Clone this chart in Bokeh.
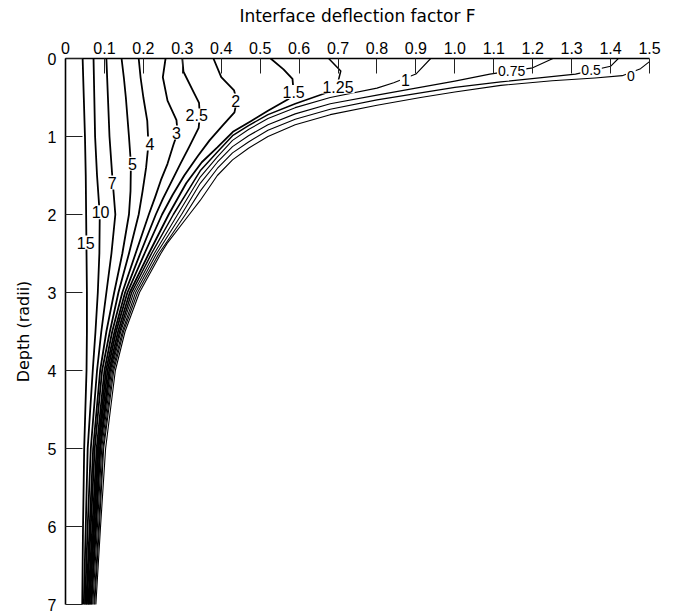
from bokeh.plotting import figure
from bokeh.models import Range1d, FixedTicker, Label
from bokeh.embed import file_html
from bokeh.resources import INLINE

# ---- axes -------------------------------------------------------------
x_ticks = [0, 0.1, 0.2, 0.3, 0.4, 0.5, 0.6, 0.7, 0.8, 0.9, 1.0, 1.1, 1.2, 1.3, 1.4, 1.5]
x_tick_labels = ["0", "0.1", "0.2", "0.3", "0.4", "0.5", "0.6", "0.7", "0.8", "0.9",
                 "1.0", "1.1", "1.2", "1.3", "1.4", "1.5"]
y_ticks = [0, 1, 2, 3, 4, 5, 6, 7]
y_tick_labels = ["0", "1", "2", "3", "4", "5", "6", "7"]
x_title = "Interface deflection factor F"
y_title = "Depth (radii)"

# ---- curves: interface deflection factor F vs depth (radii) -------------
curve_names = ["15", "10", "7", "5", "4", "3", "2.5", "2", "1.5", "1.25", "1", "0.75", "0.5", "0"]

c15_F = [0.044, 0.047, 0.050, 0.052, 0.053, 0.054, 0.055, 0.055, 0.054, 0.048, 0.045, 0.043]
c15_D = [0.0, 0.5, 1.0, 1.5, 2.0, 2.5, 3.0, 3.5, 4.0, 5.0, 6.0, 7.0]

c10_F = [0.072, 0.074, 0.076, 0.081, 0.088, 0.087, 0.083, 0.077, 0.070, 0.057, 0.052, 0.047]
c10_D = [0.0, 0.5, 1.0, 1.5, 2.0, 2.5, 3.0, 3.5, 4.0, 5.0, 6.0, 7.0]

c7_F = [0.105, 0.109, 0.113, 0.120, 0.128, 0.118, 0.105, 0.092, 0.081, 0.065, 0.057, 0.050]
c7_D = [0.0, 0.5, 1.0, 1.5, 2.0, 2.5, 3.0, 3.5, 4.0, 5.0, 6.0, 7.0]

c5_F = [0.144, 0.150, 0.155, 0.163, 0.168, 0.167, 0.163, 0.146, 0.125, 0.105, 0.089, 0.071, 0.062, 0.053]
c5_D = [0.0, 0.25, 0.5, 1.0, 1.35, 1.7, 2.0, 2.5, 3.0, 3.5, 4.0, 5.0, 6.0, 7.0]

c4_F = [0.188, 0.193, 0.200, 0.210, 0.213, 0.207, 0.198, 0.188, 0.163, 0.136, 0.114, 0.094, 0.075,
        0.065, 0.055]
c4_D = [0.0, 0.25, 0.5, 0.8, 1.1, 1.4, 1.7, 2.0, 2.5, 3.0, 3.5, 4.0, 5.0, 6.0, 7.0]

c3_F = [0.257, 0.250, 0.262, 0.285, 0.288, 0.277, 0.262, 0.245, 0.230, 0.214, 0.180, 0.146,
        0.120, 0.100, 0.080, 0.069, 0.058]
c3_D = [0.0, 0.24, 0.54, 0.79, 0.95, 1.11, 1.35, 1.56, 1.78, 2.0, 2.5, 3.0, 3.5, 4.0, 5.0, 6.0, 7.0]

c2_5_F = [0.300, 0.303, 0.330, 0.343, 0.345, 0.342, 0.318, 0.295, 0.270, 0.250, 0.232, 0.192,
          0.153, 0.126, 0.104, 0.083, 0.072, 0.060]
c2_5_D = [0.0, 0.17, 0.44, 0.57, 0.73, 0.89, 1.13, 1.35, 1.6, 1.8, 2.0, 2.5, 3.0, 3.5, 4.0, 5.0,
          6.0, 7.0]

c2_F = [0.380, 0.400, 0.433, 0.440, 0.434, 0.405, 0.370, 0.340, 0.305, 0.275, 0.248, 0.203,
        0.159, 0.130, 0.108, 0.085, 0.074, 0.062]
c2_D = [0.0, 0.24, 0.41, 0.54, 0.69, 0.85, 1.05, 1.25, 1.5, 1.75, 2.0, 2.5, 3.0, 3.5, 4.0, 5.0,
        6.0, 7.0]

c1_5_F = [0.527, 0.560, 0.583, 0.586, 0.573, 0.520, 0.477, 0.430, 0.390, 0.350, 0.310, 0.265,
          0.214, 0.165, 0.135, 0.112, 0.088, 0.077, 0.065]
c1_5_D = [0.0, 0.14, 0.26, 0.43, 0.52, 0.67, 0.80, 0.94, 1.14, 1.33, 1.6, 2.0, 2.5, 3.0, 3.5,
          4.0, 5.0, 6.0, 7.0]

c1_25_F = [0.676, 0.707, 0.700, 0.676, 0.590, 0.520, 0.470, 0.429, 0.390, 0.346, 0.277, 0.221,
           0.170, 0.139, 0.115, 0.090, 0.079, 0.067]
c1_25_D = [0.0, 0.16, 0.30, 0.43, 0.58, 0.72, 0.86, 0.99, 1.20, 1.44, 2.0, 2.5, 3.0, 3.5, 4.0,
           5.0, 6.0, 7.0]

c1_F = [0.938, 0.900, 0.843, 0.800, 0.680, 0.590, 0.520, 0.470, 0.429, 0.390, 0.346, 0.288,
        0.228, 0.175, 0.142, 0.118, 0.093, 0.082, 0.070]
c1_D = [0.0, 0.20, 0.31, 0.38, 0.50, 0.63, 0.77, 0.91, 1.05, 1.26, 1.52, 2.0, 2.5, 3.0, 3.5,
        4.0, 5.0, 6.0, 7.0]

c0_75_F = [1.252, 1.200, 1.090, 1.000, 0.900, 0.800, 0.680, 0.590, 0.520, 0.470, 0.429, 0.390,
           0.346, 0.298, 0.234, 0.180, 0.146, 0.121, 0.096, 0.085, 0.073]
c0_75_D = [0.0, 0.12, 0.20, 0.29, 0.38, 0.47, 0.58, 0.71, 0.85, 0.99, 1.13, 1.33, 1.60, 2.0,
           2.5, 3.0, 3.5, 4.0, 5.0, 6.0, 7.0]

c0_5_F = [1.420, 1.400, 1.310, 1.118, 1.000, 0.900, 0.800, 0.680, 0.590, 0.520, 0.470, 0.429,
          0.390, 0.346, 0.308, 0.240, 0.185, 0.149, 0.124, 0.098, 0.087, 0.075]
c0_5_D = [0.0, 0.10, 0.20, 0.30, 0.37, 0.45, 0.53, 0.65, 0.78, 0.92, 1.07, 1.21, 1.41, 1.70,
          2.0, 2.5, 3.0, 3.5, 4.0, 5.0, 6.0, 7.0]

c0_F = [1.500, 1.477, 1.430, 1.360, 1.250, 1.118, 1.000, 0.912, 0.800, 0.680, 0.590, 0.520,
        0.470, 0.429, 0.390, 0.346, 0.318, 0.261, 0.245, 0.190, 0.153, 0.128, 0.103, 0.090, 0.078]
c0_D = [0.04, 0.13, 0.22, 0.25, 0.285, 0.345, 0.43, 0.50, 0.60, 0.72, 0.85, 1.00, 1.15, 1.30,
        1.50, 1.82, 2.00, 2.37, 2.50, 3.00, 3.5, 4.00, 5.00, 6.00, 7.00]

# curve label anchor points (F, depth)
label_F = [0.052, 0.090, 0.120, 0.172, 0.217, 0.285, 0.337, 0.437, 0.586, 0.700, 0.873, 1.146, 1.350, 1.452]
label_D = [2.36, 1.97, 1.59, 1.35, 1.09, 0.95, 0.73, 0.54, 0.43, 0.36, 0.28, 0.16, 0.145, 0.22]

curves_F = [c15_F, c10_F, c7_F, c5_F, c4_F, c3_F, c2_5_F, c2_F, c1_5_F, c1_25_F, c1_F, c0_75_F, c0_5_F, c0_F]
curves_D = [c15_D, c10_D, c7_D, c5_D, c4_D, c3_D, c2_5_D, c2_D, c1_5_D, c1_25_D, c1_D, c0_75_D, c0_5_D, c0_D]

# ---- figure -------------------------------------------------------------
p = figure(width=670, height=613,
           x_range=Range1d(0, 1.5), y_range=Range1d(7, 0),
           x_axis_location="above",
           output_backend="svg", toolbar_location=None,
           min_border_left=65, min_border_top=58, min_border_right=21, min_border_bottom=9)
p.outline_line_color = None
p.xgrid.visible = False
p.ygrid.visible = False
p.background_fill_color = "white"
p.border_fill_color = "white"

TICK_FONT = "Liberation Sans"
TITLE_FONT = "DejaVu Sans"

xa = p.xaxis[0]
xa.ticker = FixedTicker(ticks=x_ticks)
xa.major_label_overrides = {t: s for t, s in zip(x_ticks, x_tick_labels)}
xa.minor_tick_line_color = None
xa.major_tick_in = 15
xa.major_tick_out = 0
xa.major_tick_line_color = "#222222"
xa.major_tick_line_width = 1
xa.axis_line_width = 1.6
xa.axis_line_color = "black"
xa.major_label_text_font = TICK_FONT
xa.major_label_text_font_size = "16px"
xa.major_label_text_color = "black"
xa.major_label_standoff = 5
xa.axis_label = x_title
xa.axis_label_text_font = TITLE_FONT
xa.axis_label_text_font_size = "17px"
xa.axis_label_text_font_style = "normal"
xa.axis_label_text_color = "black"
xa.axis_label_standoff = 13

ya = p.yaxis[0]
ya.ticker = FixedTicker(ticks=y_ticks)
ya.major_label_overrides = {t: s for t, s in zip(y_ticks, y_tick_labels)}
ya.minor_tick_line_color = None
ya.major_tick_in = 17
ya.major_tick_out = 0
ya.major_tick_line_color = "#222222"
ya.major_tick_line_width = 1
ya.axis_line_width = 1.6
ya.axis_line_color = "black"
ya.major_label_text_font = TICK_FONT
ya.major_label_text_font_size = "16px"
ya.major_label_text_color = "black"
ya.major_label_standoff = 9
ya.axis_label = y_title
ya.axis_label_text_font = TITLE_FONT
ya.axis_label_text_font_size = "16px"
ya.axis_label_text_font_style = "normal"
ya.axis_label_text_color = "black"
ya.axis_label_standoff = 12

heavy = {"15", "10", "7", "5", "4", "3", "2.5", "2", "1.5"}
small_labels = {"0.75", "0.5", "0"}
for name, fx, dy in zip(curve_names, curves_F, curves_D):
    lw = 1.8 if name in heavy else (1.5 if name == "1.25" else 1.1)
    p.line(fx, dy, line_color="black", line_width=lw, line_join="round", line_cap="round")

for name, fx, dy in zip(curve_names, label_F, label_D):
    fs = "14px" if name in small_labels else "16px"
    p.add_layout(Label(x=fx, y=dy, text=name, text_align="center", text_baseline="middle",
                       text_font=TICK_FONT, text_font_size=fs, text_color="black",
                       background_fill_color="white", padding=1))

open("out.html", "w").write(file_html(p, INLINE))
